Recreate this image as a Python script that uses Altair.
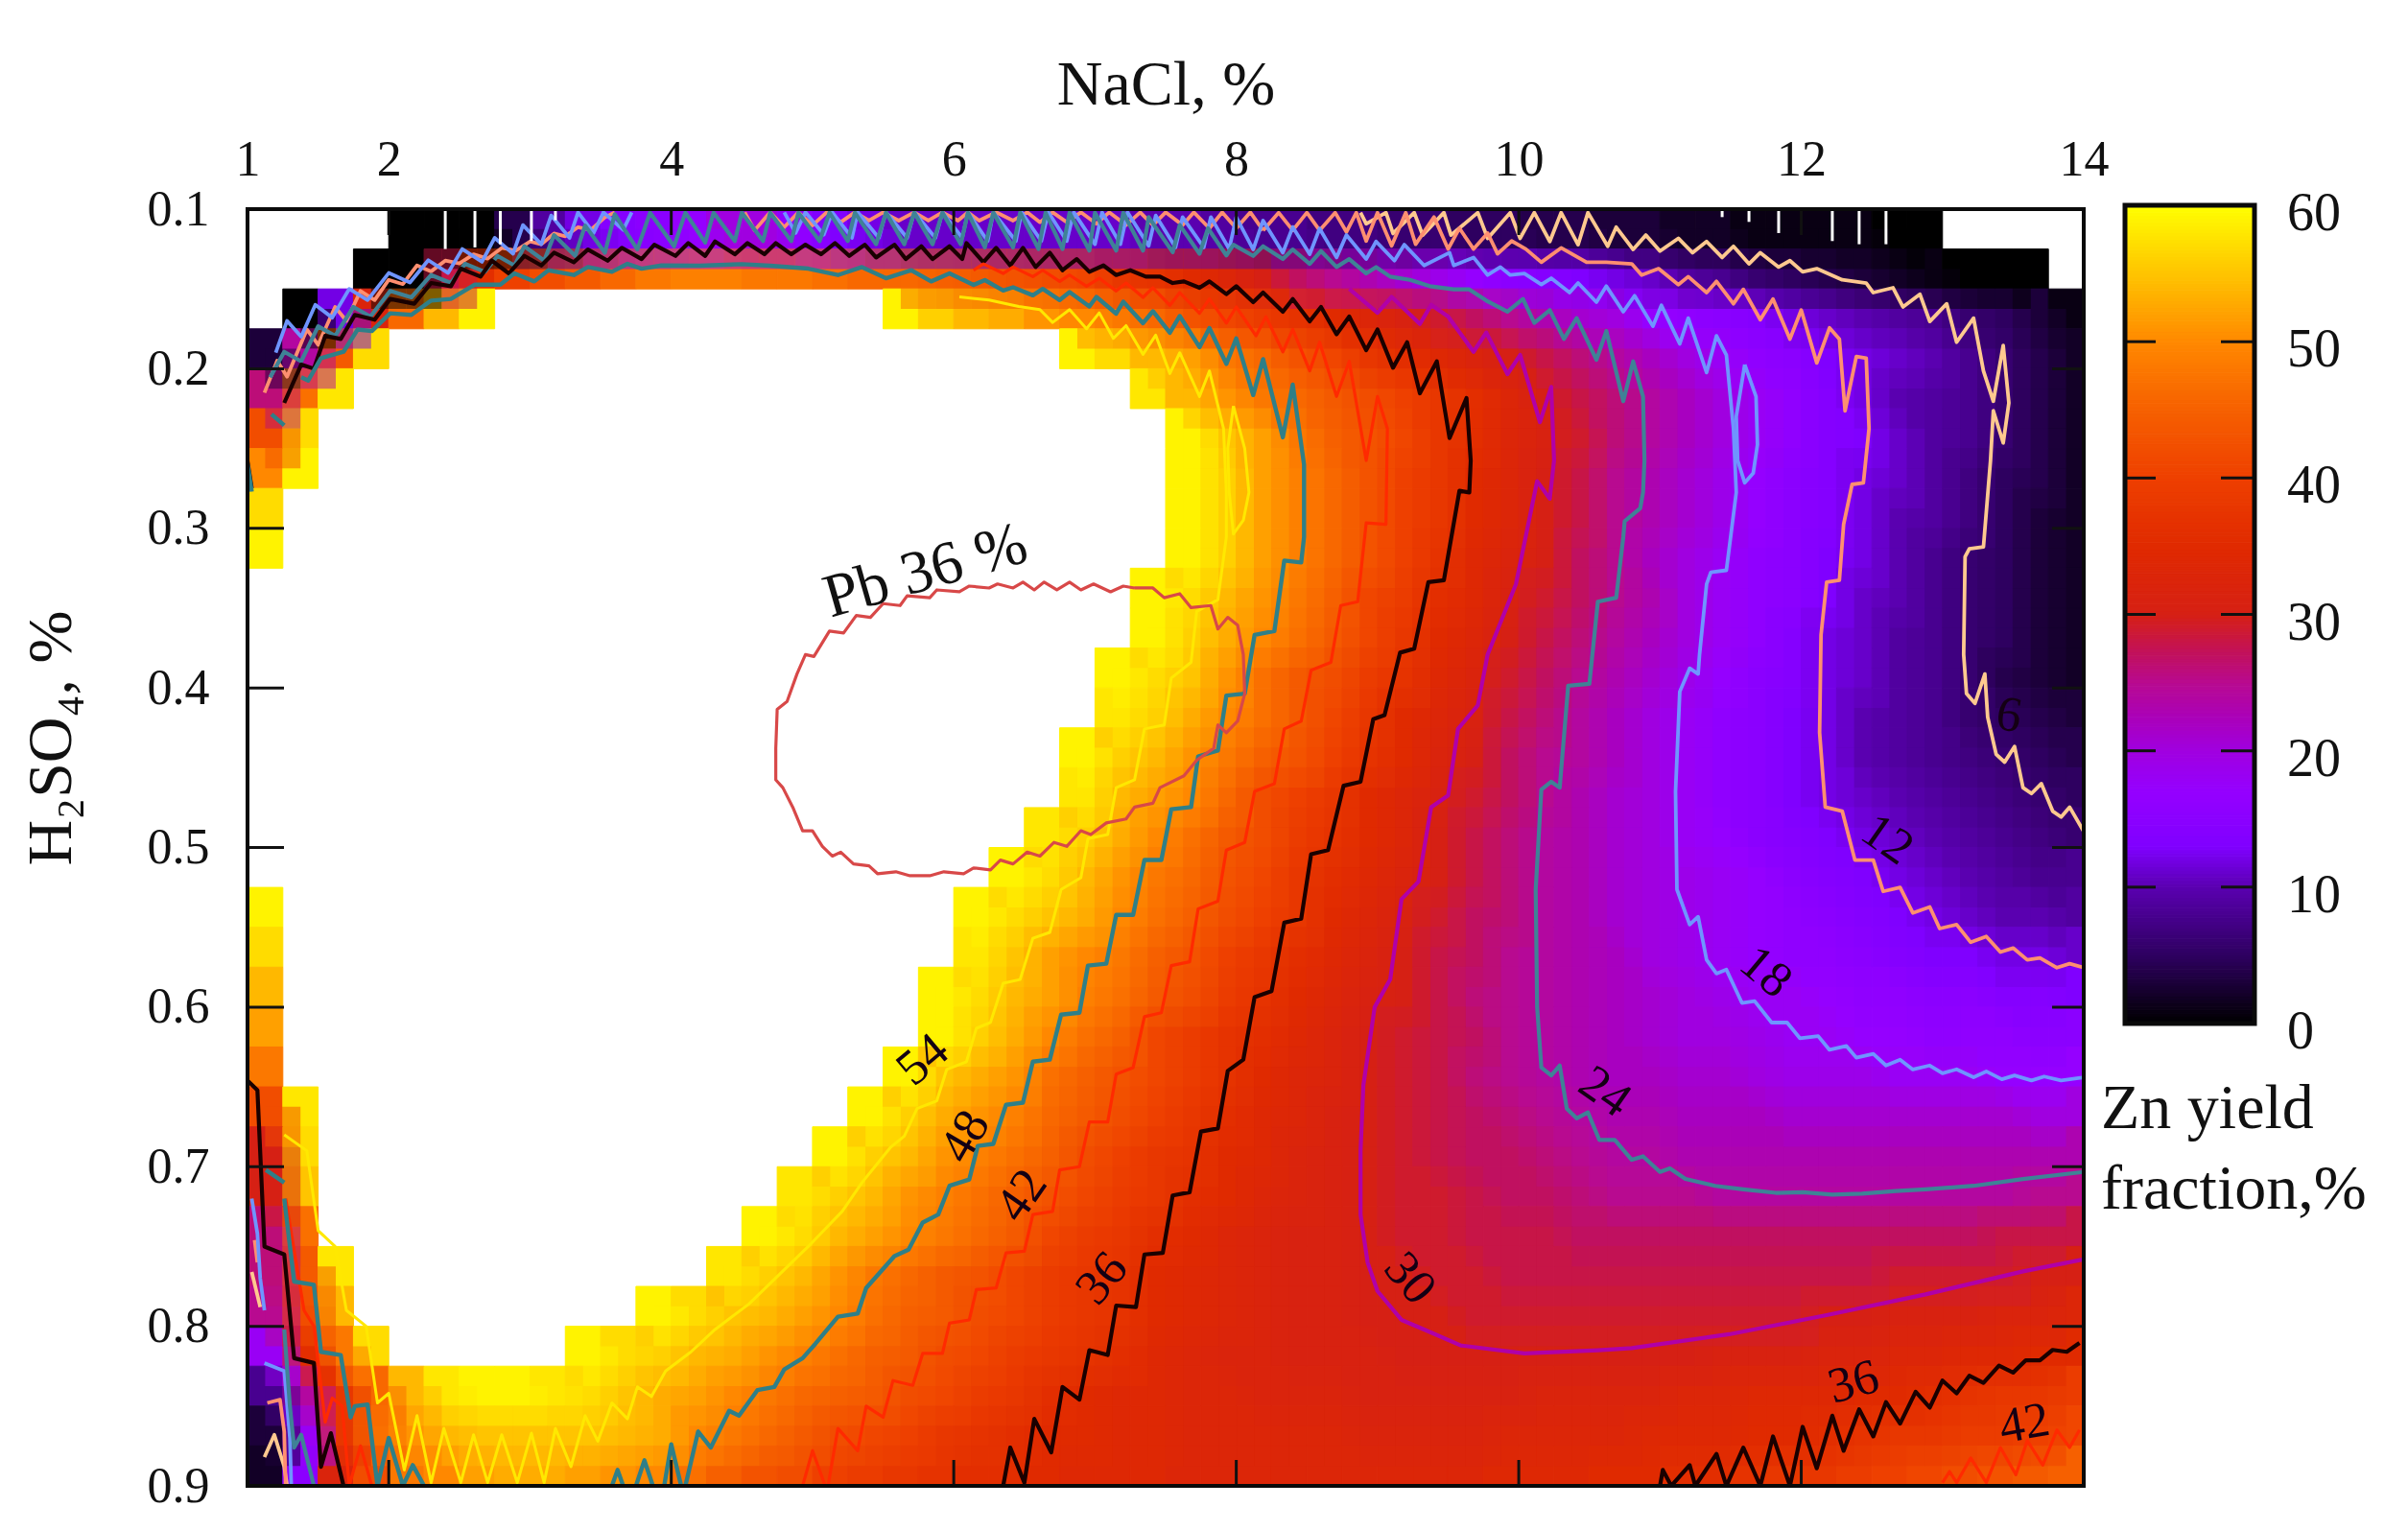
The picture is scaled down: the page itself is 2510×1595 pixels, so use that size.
import altair as alt
import pandas as pd

N = None
FONT = "Liberation Serif"

# ---------- Zn yield field, rows top to bottom, cells 0.25 x 0.025 ----------
nacl_start, nacl_step = 1.0, 0.25
acid_start, acid_step = 0.1, 0.025
zn_rows = [
 [N]*4+[0,0,0,4,9,12,14,15,17,20,20,16,13,12,11,11,11,11,11,11,11,10,10,9,8,8,7,7,6,6,5,5,4,4,3,3,2,2,1,1,1,1,0,0]+[N]*4,
 [N,N,N,0,0,28,36,40,42,44,46,48,49,49,48,48,47,46,46,45,44,43,42,41,38,37,35,33,30,27,25,23,21,19,17,15,14,13,12,11,9,8,6,5,4,3,2,1,0,0,0,N],
 [N,0,12,32,46,54,59]+[N]*11+[59,56,54,53,51,50,48,46,43,41,39,37,35,33,31,29,27,25,23,21,20,17,16,15,14,12,11,10,9,8,6,5,3,1],
 [3,24,44,57]+[N]*19+[59,57,54,52,48,46,43,41,38,36,34,32,30,28,26,24,22,20,18,16,15,13,12,11,10,8,6,4,2],
 [26,47,58]+[N]*22+[58,54,51,48,46,44,42,40,38,36,33,30,28,26,24,22,20,18,16,14,12,10,9,8,6,4,2],
 [42,57]+[N]*24+[59,55,52,48,45,43,41,38,36,33,31,29,26,24,22,20,18,16,14,13,11,9,8,6,4,2],
 [50,59]+[N]*24+[59,56,52,49,46,43,40,38,35,33,30,28,25,23,21,19,17,15,14,12,11,9,7,5,4,2],
 [57]+[N]*25+[59,56,52,49,46,43,40,38,35,33,30,28,25,23,21,19,17,15,14,12,10,9,7,5,3,2],
 [59]+[N]*25+[59,56,52,49,46,43,40,37,34,32,30,27,25,22,20,18,16,15,13,12,10,8,6,5,3,2],
 [N]*25+[59,57,54,51,48,45,41,39,36,34,31,29,27,25,23,20,18,16,15,13,11,10,8,6,5,3,2],
 [N]*25+[59,56,53,50,47,44,41,38,35,33,30,28,26,24,22,20,18,16,14,12,11,9,8,6,5,3,2],
 [N]*24+[59,57,55,51,47,44,42,39,37,34,32,29,27,25,23,21,19,17,15,14,12,11,9,8,6,4,3,2],
 [N]*24+[58,56,53,50,47,44,41,38,35,33,31,28,26,24,22,20,18,16,15,13,12,10,9,8,6,5,4,3],
 [N]*23+[59,56,54,51,48,45,43,40,37,35,32,30,27,25,24,22,20,18,16,15,13,12,10,9,8,7,6,5,4],
 [N]*23+[58,54,52,50,46,42,40,38,35,33,31,29,27,25,23,21,20,18,16,15,13,12,11,10,9,8,7,6,5],
 [N]*22+[58,56,53,50,47,44,42,39,37,35,33,30,28,26,24,23,21,20,18,17,15,14,13,12,11,10,9,8,7,6],
 [N]*21+[59,57,54,51,48,46,43,41,38,36,34,32,30,28,26,24,23,21,20,19,18,17,15,14,13,12,11,10,9,8,8],
 [59]+[N]*19+[59,57,55,53,50,47,45,42,40,38,35,33,31,29,27,26,24,23,21,20,19,18,17,16,15,14,13,12,11,10,10,9],
 [57]+[N]*19+[58,55,52,50,48,45,43,40,38,36,34,32,30,28,27,25,24,23,22,20,19,18,17,16,16,15,14,13,13,12,12,11],
 [54]+[N]*18+[59,57,54,52,49,47,44,42,39,37,35,33,31,30,28,26,25,24,23,22,21,20,19,18,18,17,16,16,15,15,14,14,13],
 [52]+[N]*18+[59,56,53,50,47,45,41,39,37,36,34,32,30,29,28,27,25,24,23,22,21,20,20,19,18,18,17,17,16,16,16,15,15],
 [48]+[N]*17+[59,55,53,51,47,45,43,41,39,37,35,33,32,30,29,28,26,25,24,23,22,22,21,21,20,19,19,19,18,18,18,17,17,17],
 [42,58]+[N]*15+[59,56,53,51,49,46,44,42,40,38,36,34,33,31,30,29,28,27,26,25,24,23,23,22,22,22,21,21,21,21,21,21,21,20,20],
 [30,57]+[N]*14+[59,56,54,51,49,47,45,42,40,38,37,35,34,32,31,30,29,28,27,27,26,25,24,24,23,23,23,23,23,23,23,23,23,23,23,23],
 [30,55]+[N]*13+[58,56,54,51,49,47,45,43,41,39,38,36,35,33,32,31,30,29,29,28,27,27,26,25,25,25,24,24,24,24,24,24,24,24,24,25,25],
 [26,47]+[N]*12+[59,57,54,52,50,48,46,44,41,39,38,36,35,33,32,31,31,30,29,29,28,28,28,27,27,27,27,27,27,27,27,27,27,27,27,28,28,28],
 [26,44,58]+[N]*10+[58,56,54,51,48,46,44,43,41,39,38,37,35,34,33,32,31,31,30,30,29,29,28,28,28,28,28,28,28,28,28,28,28,29,29,29,29,30,30],
 [25,42,54]+[N]*8+[59,57,55,54,52,50,47,45,44,42,41,39,38,37,35,34,33,32,31,31,30,30,30,29,29,29,29,29,29,29,29,29,29,30,30,31,31,31,32,32,33],
 [18,36,48,57]+[N]*5+[59,57,56,54,53,51,49,47,45,44,42,41,39,38,37,36,34,33,32,32,31,31,31,30,30,30,30,30,30,30,30,30,31,31,31,32,32,33,33,34,34,35,35],
 [8,24,38,46,54,58,59,59,58,57,55,53,52,50,48,46,45,44,42,41,39,38,36,35,34,34,33,33,32,32,32,31,31,31,31,31,32,32,32,32,33,33,34,34,34,35,35,36,37,38,38,39],
 [3,18,38,47,51,54,55,55,55,55,54,53,50,48,46,44,42,41,40,38,37,36,35,35,34,34,33,33,33,33,33,32,32,32,32,33,33,33,33,34,34,34,35,35,36,37,38,38,39,39,40,41],
 [2,15,32,42,48,50,52,53,53,52,51,50,47,45,43,42,40,39,38,37,36,36,35,34,34,34,33,33,33,33,33,33,33,33,33,34,34,34,35,35,36,36,37,38,38,39,40,41,42,43,44,45],
]

# ---------- colour ramp ----------
ramp_values = [0,5,10,13,17,20,22,25,27,30,35,40,45,50,55,60]
ramp_colors = ["#000000","#2e0060","#5a00b0","#8000ff","#9500ff","#a000e0","#a800c0","#b80a90","#c01060",
               "#d62014","#e02a00","#ee4000","#f66000","#ff8800","#ffc400","#ffff00"]

# ---------- contours (NaCl, H2SO4) ----------
c6_a = [(8.88,.1022),(8.92,.1092),(9.06,.1022),(9.11,.1153),(9.26,.1022),(9.32,.1163),(9.47,.1022),(9.52,.1163),(9.71,.1022),(9.78,.1183),(9.94,.1022),(10.01,.1183),(10.11,.1022),(10.22,.1203),(10.3,.1022),(10.42,.1223),(10.49,.1022),(10.63,.1233),(10.69,.1113),(10.81,.1253),(10.9,.1163),(11.0,.1263),(11.13,.1183),(11.23,.1273),(11.33,.1203),(11.44,.1303),(11.52,.1233),(11.63,.1343),(11.71,.1273),(11.84,.1363),(11.92,.1323),(12.01,.1393),(12.11,.1373),(12.29,.1443),(12.46,.1463),(12.51,.1523),(12.65,.1493),(12.72,.1613),(12.84,.1533),(12.91,.1704),(13.03,.1593),(13.1,.1834),(13.22,.1683),(13.29,.2014),(13.36,.2204),(13.43,.1854),(13.47,.2214),(13.43,.2465),(13.36,.2264),(13.34,.2575),(13.29,.3116),(13.19,.3129),(13.16,.3178),(13.15,.3791),(13.17,.4036),(13.23,.4097),(13.3,.3913),(13.32,.4183),(13.38,.4416),(13.44,.4465),(13.51,.4367),(13.57,.4625),(13.63,.4662),(13.7,.46),(13.78,.4772),(13.84,.4809),(13.9,.4747),(14.0,.49)]
c6_b = [(1.03,.766),(1.09,.788)]
c6_c = [(1.12,.882),(1.19,.868),(1.26,.888),(1.28,.9)]
c12_a = [(8.19,.1133),(8.3,.1022),(8.4,.1133),(8.5,.1022),(8.59,.1133),(8.7,.1022),(8.78,.1143),(8.85,.1022),(8.92,.12),(9.0,.1022),(9.1,.123),(9.2,.1022),(9.27,.122),(9.4,.105),(9.5,.125),(9.58,.112),(9.68,.125),(9.78,.115),(9.85,.128),(9.95,.12),(10.05,.125),(10.16,.1333),(10.3,.1243),(10.48,.1333),(10.62,.1333),(10.8,.1343),(10.87,.1413),(10.99,.1373),(11.13,.1473),(11.2,.1423),(11.33,.1523),(11.4,.1453),(11.52,.1593),(11.59,.1503),(11.71,.1693),(11.8,.1563),(11.92,.1814),(12.0,.1633),(12.11,.1964),(12.2,.1744),(12.27,.1814),(12.31,.2264),(12.39,.1924),(12.46,.1934),(12.48,.2375),(12.44,.2715),(12.36,.2725),(12.3,.2975),(12.27,.3325),(12.18,.3337),(12.14,.3668),(12.13,.4281),(12.17,.4747),(12.29,.4772),(12.38,.5079),(12.51,.5079),(12.58,.5275),(12.7,.525),(12.79,.541),(12.91,.5373),(12.98,.5508),(13.1,.5483),(13.2,.5594),(13.31,.5557),(13.41,.5655),(13.5,.563),(13.6,.5704),(13.69,.5692),(13.81,.5753),(13.9,.5728),(14.0,.5753)]
c12_b = [(1.12,.215),(1.21,.195),(1.28,.205),(1.42,.1754),(1.5,.185),(1.62,.1613),(1.7,.17),(1.8,.1513),(1.9,.157),(2.0,.1443),(2.1,.147),(2.2,.1353),(2.3,.139),(2.4,.1323),(2.5,.134),(2.6,.1283),(2.7,.131),(2.8,.1243),(2.9,.126),(3.0,.1203),(3.08,.122),(3.17,.1153),(3.25,.117),(3.34,.1113),(3.43,.113),(3.53,.1052),(3.6,.102)]
c12_c = [(4.52,.102),(4.59,.1133),(4.7,.102),(4.8,.1113),(4.9,.102),(5.0,.1102),(5.1,.102),(5.2,.1082),(5.3,.102),(5.4,.1072),(5.5,.102),(5.61,.1072),(5.72,.102),(5.82,.1072),(5.92,.102),(6.03,.1072),(6.1,.102),(6.18,.1072),(6.3,.102),(6.42,.1072),(6.52,.102),(6.61,.1082),(6.7,.102),(6.8,.1082),(6.9,.102),(7.01,.1092),(7.1,.102),(7.22,.11),(7.32,.102),(7.41,.11),(7.5,.102),(7.62,.11),(7.7,.102),(7.81,.112),(7.9,.102),(8.0,.112),(8.1,.102),(8.19,.1133)]
c12_d = [(1.05,.746),(1.07,.76)]
c12_e = [(1.14,.848),(1.23,.846),(1.26,.866),(1.27,.9)]
c18_a = [(1.2,.19),(1.28,.17),(1.38,.18),(1.48,.16),(1.6,.168),(1.72,.15),(1.85,.157),(2.0,.14),(2.15,.146),(2.28,.132),(2.42,.14),(2.52,.125),(2.66,.133),(2.75,.118),(2.88,.128),(2.95,.11),(3.08,.122),(3.15,.104),(3.28,.118),(3.34,.102),(3.45,.115),(3.52,.102),(3.66,.113),(3.72,.102)]
c18_b = [(4.8,.102),(4.88,.115),(4.95,.102),(5.08,.116),(5.14,.102),(5.28,.118),(5.32,.102),(5.47,.118),(5.52,.102),(5.67,.118),(5.72,.102),(5.87,.118),(5.92,.102),(6.06,.118),(6.1,.102),(6.24,.12),(6.28,.102),(6.44,.12),(6.48,.102),(6.62,.12),(6.67,.102),(6.8,.12),(6.85,.102),(7.0,.122),(7.05,.102),(7.18,.122),(7.23,.102),(7.38,.123),(7.43,.104),(7.57,.124),(7.62,.105),(7.77,.124),(7.82,.105),(7.95,.125),(8.0,.105),(8.12,.1253),(8.19,.1072),(8.33,.1273),(8.4,.1112),(8.52,.1283),(8.59,.1122),(8.71,.1303),(8.78,.1162),(8.92,.1313),(8.99,.1203),(9.12,.1323),(9.19,.1223),(9.33,.1353),(9.51,.1273),(9.54,.1353),(9.68,.1303),(9.78,.1413),(9.87,.1363),(9.94,.1413),(10.04,.1403),(10.16,.1473),(10.23,.1433),(10.36,.1523),(10.42,.1463),(10.55,.1583),(10.62,.1483),(10.74,.1643),(10.82,.1543),(10.95,.1734),(11.01,.1603),(11.14,.1844),(11.2,.1683),(11.33,.2024),(11.4,.1794),(11.47,.1914),(11.52,.2375),(11.54,.2775),(11.5,.3055),(11.47,.3263),(11.36,.3276),(11.33,.335),(11.28,.379),(11.27,.3913),(11.21,.3877),(11.14,.4024),(11.11,.4649),(11.12,.5263),(11.21,.5483),(11.27,.5434),(11.33,.5704),(11.4,.579),(11.47,.5765),(11.58,.5974),(11.67,.5962),(11.79,.6097),(11.9,.6097),(11.99,.6195),(12.12,.6182),(12.2,.6268),(12.32,.6244),(12.39,.6317),(12.51,.6293),(12.6,.6366),(12.7,.633),(12.79,.6391),(12.91,.6366),(13.0,.6415),(13.1,.639),(13.22,.644),(13.31,.6403),(13.42,.6452),(13.51,.6428),(13.63,.646),(13.72,.6435),(13.84,.646),(14.0,.644)]
c18_c = [(11.6,.1974),(11.68,.2174),(11.69,.2475),(11.66,.2655),(11.6,.2715),(11.55,.2575),(11.54,.23),(11.6,.1974)]
c18_d = [(1.03,.72),(1.07,.742),(1.09,.77),(1.12,.79)]
c18_e = [(1.12,.823),(1.26,.828),(1.3,.87),(1.31,.9)]
c24_a = [(1.16,.2054),(1.26,.1894),(1.38,.1954),(1.5,.1734),(1.62,.1794),(1.75,.1613),(1.87,.1673),(2.01,.1513),(2.16,.1553),(2.3,.1413),(2.44,.1463),(2.54,.1343),(2.68,.1393),(2.77,.1293),(2.89,.1353),(2.96,.1233),(3.1,.1323),(3.17,.1163),(3.32,.1293),(3.39,.1103),(3.53,.1273),(3.6,.1032),(3.76,.1253),(3.85,.1022),(4.02,.1233),(4.1,.1022),(4.24,.121),(4.3,.1022),(4.45,.12),(4.5,.1022),(4.65,.12),(4.7,.1022),(4.85,.12),(4.9,.1022),(5.05,.12),(5.12,.1022),(5.25,.12),(5.3,.1022),(5.45,.122),(5.52,.1022),(5.65,.122),(5.72,.1022),(5.85,.122),(5.92,.1022),(6.05,.122),(6.1,.1022),(6.22,.124),(6.28,.1022),(6.42,.124),(6.47,.1022),(6.6,.125),(6.65,.1022),(6.77,.125),(6.82,.1022),(6.96,.126),(7.0,.1022),(7.15,.126),(7.2,.1022),(7.34,.126),(7.38,.105),(7.55,.127),(7.6,.11),(7.74,.128),(7.8,.112),(7.93,.129),(7.98,.1223),(8.12,.1293),(8.19,.1233),(8.33,.1313),(8.4,.1253),(8.52,.1343),(8.6,.1263),(8.71,.1363),(8.8,.1313),(8.92,.1403),(8.99,.1363),(9.09,.1423),(9.23,.1443),(9.37,.1483),(9.54,.1503),(9.65,.1503),(9.77,.1573),(9.92,.1643),(10.03,.1563),(10.11,.1713),(10.22,.1633),(10.32,.1814),(10.41,.1683),(10.55,.1944),(10.62,.1764),(10.74,.2204),(10.81,.1954),(10.88,.2174),(10.89,.2575),(10.88,.2775),(10.86,.2875),(10.75,.2956),(10.74,.3055),(10.69,.3435),(10.56,.346),(10.5,.3975),(10.35,.3987),(10.29,.4625),(10.23,.4588),(10.16,.4637),(10.12,.5263),(10.13,.5998),(10.16,.6379),(10.23,.6428),(10.29,.6366),(10.34,.6636),(10.41,.6697),(10.49,.666),(10.57,.6832),(10.68,.6832),(10.8,.6957),(10.88,.6935),(11.0,.7033),(11.07,.7011),(11.18,.7077),(11.39,.712),(11.59,.7142),(11.82,.7164),(12.01,.716),(12.22,.7175),(12.43,.7169),(12.67,.7153),(12.88,.7142),(13.22,.712),(13.57,.7077),(14.0,.7033)]
c24_b = [(1.26,.802),(1.3,.85),(1.33,.876),(1.38,.868),(1.47,.9)]
c30_a = [(8.8,.15),(9.0,.165),(9.1,.155),(9.3,.172),(9.38,.16),(9.5,.1673),(9.68,.1894),(9.77,.1773),(9.92,.2034),(10.01,.1914),(10.15,.2335),(10.23,.2114),(10.25,.2575),(10.22,.2815),(10.13,.2705),(9.98,.335),(9.78,.379),(9.71,.411),(9.57,.4257),(9.5,.4674),(9.38,.4747),(9.29,.5214),(9.17,.5324),(9.09,.5827),(8.98,.6),(8.9,.649),(8.88,.69),(8.88,.73),(8.93,.76),(9.0,.778),(9.17,.796),(9.33,.802),(9.59,.812),(10.04,.817),(10.56,.815),(10.8,.8137),(11.49,.805),(12.18,.793),(12.88,.78),(13.57,.7656),(14.0,.758)]
c36_a = [(1.26,.2214),(1.38,.1974),(1.47,.2),(1.55,.1794),(1.66,.1814),(1.76,.1663),(1.9,.1693),(2.01,.1563),(2.18,.1593),(2.3,.1463),(2.44,.1483),(2.51,.1373),(2.65,.1423),(2.73,.1323),(2.85,.1403),(2.96,.1293),(3.08,.1353),(3.17,.1273),(3.31,.1333),(3.41,.1253),(3.55,.1323),(3.65,.1243),(3.79,.1313),(3.88,.1223),(4.03,.1293),(4.12,.1213),(4.24,.1293),(4.31,.1203),(4.45,.1283),(4.54,.1213),(4.66,.1283),(4.74,.1213),(4.85,.1283),(4.95,.1223),(5.06,.1283),(5.16,.1213),(5.26,.1293),(5.37,.1223),(5.45,.1303),(5.58,.1223),(5.66,.1313),(5.77,.1233),(5.85,.1313),(5.97,.1233),(6.06,.1313),(6.09,.1213),(6.21,.1333),(6.3,.1243),(6.4,.1353),(6.49,.1243),(6.58,.1363),(6.68,.1273),(6.77,.1383),(6.87,.1313),(6.96,.1393),(7.06,.1353),(7.15,.1413),(7.25,.1383),(7.36,.1423),(7.46,.1423),(7.55,.1463),(7.63,.1453),(7.74,.1493),(7.81,.1453),(7.93,.1533),(8.0,.1483),(8.12,.1583),(8.19,.1523),(8.33,.1643),(8.4,.1563),(8.52,.1703),(8.6,.1613),(8.71,.1784),(8.8,.1673),(8.92,.1884),(9.0,.1754),(9.11,.1994),(9.21,.1834),(9.3,.2154),(9.42,.1954),(9.51,.2435),(9.63,.2184),(9.66,.2575),(9.65,.2775),(9.58,.2765),(9.47,.3325),(9.36,.3337),(9.26,.3754),(9.16,.3779),(9.05,.4171),(8.97,.4196),(8.88,.4588),(8.76,.4613),(8.65,.5017),(8.53,.5042),(8.46,.5446),(8.34,.5471),(8.25,.59),(8.13,.5937),(8.05,.6329),(7.94,.64),(7.87,.676),(7.75,.678),(7.67,.716),(7.55,.718),(7.48,.754),(7.35,.755),(7.29,.788),(7.15,.787),(7.09,.818),(6.96,.815),(6.89,.846),(6.77,.838),(6.69,.879),(6.57,.858),(6.5,.898),(6.4,.876),(6.35,.9)]
c36_b = [(11.0,.9),(11.02,.89),(11.08,.9),(11.21,.887),(11.25,.9),(11.4,.88),(11.47,.9),(11.59,.876),(11.71,.9),(11.8,.869),(11.92,.9),(12.01,.863),(12.11,.889),(12.22,.856),(12.3,.878),(12.41,.852),(12.51,.869),(12.6,.8475),(12.7,.861),(12.81,.841),(12.91,.851),(13.0,.834),(13.1,.842),(13.19,.831),(13.29,.8355),(13.4,.8246),(13.5,.829),(13.59,.8213),(13.69,.8213),(13.78,.8148),(13.88,.816),(13.97,.8104)]
c36_c = [(1.0,.646),(1.07,.652),(1.12,.75),(1.26,.755),(1.33,.82),(1.47,.823),(1.52,.888),(1.59,.867),(1.68,.9)]
c36_d = [(1.0,.258),(1.03,.275)]
c42_a = [(6.14,.1383),(6.21,.1343),(6.35,.1403),(6.42,.1363),(6.56,.1423),(6.63,.1383),(6.75,.1453),(6.82,.1413),(6.94,.1483),(7.03,.1433),(7.15,.1513),(7.22,.1463),(7.34,.1553),(7.41,.1493),(7.53,.1603),(7.6,.1523),(7.74,.1653),(7.81,.1563),(7.93,.1714),(8.0,.1613),(8.14,.1794),(8.21,.1674),(8.33,.1894),(8.4,.1754),(8.52,.2014),(8.59,.1834),(8.71,.2174),(8.8,.1954),(8.92,.2575),(9.0,.2174),(9.07,.2375),(9.06,.2975),(8.92,.2966),(8.86,.346),(8.74,.3484),(8.67,.384),(8.53,.3889),(8.46,.4208),(8.34,.4257),(8.27,.46),(8.13,.4649),(8.06,.4968),(7.93,.5017),(7.87,.5336),(7.73,.5385),(7.67,.5716),(7.54,.574),(7.47,.6035),(7.35,.606),(7.27,.6379),(7.15,.642),(7.09,.672),(6.96,.672),(6.89,.70),(6.75,.702),(6.7,.728),(6.56,.73),(6.5,.753),(6.37,.754),(6.3,.776),(6.16,.777),(6.11,.796),(5.97,.798),(5.92,.817),(5.78,.817),(5.71,.837),(5.57,.834),(5.5,.857),(5.38,.85),(5.32,.878),(5.18,.864),(5.11,.9)]
c42_b = [(4.93,.9),(5.0,.878),(5.09,.9)]
c42_c = [(13.0,.898),(13.05,.891),(13.1,.898),(13.2,.8825),(13.31,.898),(13.41,.876),(13.52,.893),(13.6,.8716),(13.71,.887),(13.81,.865),(13.9,.876),(13.97,.865)]
c42_d = [(1.27,.72),(1.4,.79),(1.47,.80),(1.55,.86),(1.6,.845),(1.67,.85),(1.72,.9),(1.8,.875),(1.88,.9)]
c48_a = [(1.38,.2054),(1.43,.2074),(1.52,.1934),(1.68,.1894),(1.78,.1754),(1.88,.1764),(2.01,.1653),(2.16,.1663),(2.3,.1573),(2.44,.1563),(2.61,.1473),(2.79,.1473),(2.89,.1403),(3.03,.1453),(3.13,.1383),(3.31,.1413),(3.41,.1363),(3.58,.1393),(3.69,.1343),(3.79,.1373),(3.93,.1353),(4.2,.1355),(4.5,.1345),(4.7,.1355),(4.97,.1373),(5.18,.1413),(5.35,.1363),(5.52,.1433),(5.7,.1383),(5.84,.1453),(5.97,.1403),(6.14,.1475),(6.22,.1445),(6.35,.151),(6.42,.149),(6.56,.154),(6.63,.15),(6.75,.157),(6.82,.152),(6.96,.161),(7.01,.155),(7.15,.1655),(7.2,.158),(7.34,.1715),(7.41,.164),(7.53,.1775),(7.6,.167),(7.74,.1865),(7.81,.1745),(7.93,.197),(8.0,.181),(8.12,.2165),(8.19,.194),(8.33,.243),(8.4,.21),(8.48,.26),(8.48,.3055),(8.46,.3214),(8.34,.3202),(8.27,.3644),(8.13,.3668),(8.06,.4036),(7.93,.4048),(7.87,.4392),(7.73,.4429),(7.68,.4747),(7.54,.476),(7.47,.5078),(7.35,.5078),(7.27,.5422),(7.15,.5422),(7.08,.5728),(6.95,.574),(6.89,.6035),(6.76,.6047),(6.68,.6329),(6.56,.6342),(6.49,.6599),(6.37,.6612),(6.28,.6857),(6.17,.687),(6.11,.708),(5.97,.712),(5.89,.730),(5.78,.735),(5.68,.752),(5.58,.756),(5.38,.776),(5.32,.792),(5.18,.794),(5.02,.811),(4.93,.82),(4.8,.827),(4.73,.838),(4.61,.84),(4.48,.856),(4.41,.853),(4.28,.876),(4.19,.866),(4.1,.9)]
c48_b = [(1.26,.2355),(1.17,.2285)]
c48_c = [(1.0,.26),(1.03,.277)]
c48_d = [(1.13,.702),(1.26,.71)]
c48_e = [(1.26,.72),(1.33,.772),(1.47,.774),(1.52,.816),(1.66,.818),(1.73,.857),(1.76,.85),(1.85,.849),(1.92,.9),(2.0,.87),(2.1,.9),(2.17,.887),(2.25,.9)]
c48_f = [(3.95,.9),(4.0,.874),(4.07,.9)]
c48_g = [(3.75,.9),(3.81,.884),(3.87,.9)]
c48_h = [(3.58,.9),(3.62,.89),(3.66,.9)]
c54_a = [(6.04,.155),(6.25,.157),(6.46,.161),(6.61,.163),(6.7,.171),(6.82,.163),(6.94,.175),(7.03,.165),(7.13,.181),(7.22,.173),(7.34,.191),(7.43,.179),(7.53,.203),(7.6,.19),(7.74,.2174),(7.81,.2014),(7.91,.2375),(7.93,.2775),(7.93,.3055),(7.87,.3447),(7.72,.3521),(7.68,.384),(7.54,.3938),(7.49,.4232),(7.35,.4257),(7.28,.4576),(7.15,.4625),(7.09,.4919),(6.95,.4944),(6.9,.5189),(6.76,.5263),(6.68,.5532),(6.56,.5569),(6.47,.5827),(6.35,.5851),(6.26,.6096),(6.16,.6133),(6.09,.6342),(5.95,.6391),(5.88,.6587),(5.74,.6636),(5.65,.6808),(5.55,.6881),(5.35,.71),(5.21,.728),(4.97,.75),(4.76,.768),(4.55,.786),(4.31,.802),(4.14,.816),(3.96,.828),(3.86,.844),(3.76,.838),(3.69,.858),(3.58,.848),(3.48,.872),(3.39,.856),(3.29,.888),(3.18,.864),(3.1,.898),(3.01,.867),(2.91,.898),(2.8,.868),(2.7,.898),(2.6,.868),(2.51,.898),(2.39,.864),(2.3,.898),(2.2,.856),(2.11,.89),(2.0,.842),(1.92,.848),(1.84,.8),(1.7,.79),(1.62,.75),(1.5,.74),(1.42,.69),(1.26,.68)]
c54_b = [(7.98,.2234),(8.06,.25),(8.09,.2775),(8.05,.295),(7.98,.3036),(7.95,.2775),(7.94,.25),(7.98,.2234)]
pb36 = [(7.28,.3374),(7.41,.3374),(7.49,.3435),(7.6,.341),(7.68,.3497),(7.82,.3484),(7.87,.3631),(7.94,.3558),(8.01,.3607),(8.05,.3791),(8.06,.4036),(8.01,.4208),(7.93,.4281),(7.87,.4232),(7.84,.4379),(7.72,.4453),(7.63,.4551),(7.46,.4625),(7.41,.4723),(7.28,.4747),(7.22,.4821),(7.08,.4846),(6.97,.4919),(6.9,.4895),(6.8,.4993),(6.71,.4968),(6.61,.5054),(6.52,.5029),(6.42,.5103),(6.33,.5079),(6.26,.514),(6.14,.5128),(6.07,.5164),(5.93,.5152),(5.83,.5177),(5.69,.5177),(5.59,.5152),(5.46,.5164),(5.4,.5115),(5.29,.5103),(5.2,.5029),(5.14,.5054),(5.07,.4993),(5.0,.4895),(4.93,.4895),(4.86,.4747),(4.79,.4625),(4.74,.4576),(4.74,.4379),(4.75,.4134),(4.82,.4085),(4.89,.3913),(4.95,.3791),(5.01,.3803),(5.12,.3644),(5.22,.3656),(5.31,.3546),(5.41,.3558),(5.5,.3472),(5.62,.3484),(5.67,.3423),(5.83,.3435),(5.88,.3386),(6.04,.3398),(6.11,.3362),(6.25,.3374),(6.31,.3349),(6.42,.3374),(6.49,.3337),(6.57,.3386),(6.64,.3337),(6.73,.3386),(6.82,.3337),(6.9,.3386),(6.99,.3349),(7.11,.3398),(7.2,.3362),(7.28,.3374)]

contour_groups = [
 ("#ffc98f", 3.8, [c6_a, c6_b, c6_c]),
 ("#ff8f70", 3.8, [c12_a, c12_b, c12_c, c12_d, c12_e]),
 ("#6f95ff", 3.8, [c18_a, c18_c, c18_d, c18_e, c18_b]),
 ("#3f8296", 4.2, [c24_a, c24_b]),
 ("#b000a8", 4.2, [c30_a]),
 ("#1a0000", 4.2, [c36_a, c36_b, c36_c, c36_d]),
 ("#ff2a00", 3.2, [c42_a, c42_b, c42_c, c42_d]),
 ("#2f7f88", 4.4, [c48_a, c48_b, c48_c, c48_d, c48_e, c48_f, c48_g, c48_h]),
 ("#ffe800", 3.0, [c54_a, c54_b]),
 ("#d84848", 3.2, [pb36]),
]

# ---------- labels ----------
label_text = ["54","48","42","36","30","24","18","12","6","36","42"]
label_x = [5.78,6.08,6.48,7.05,9.23,10.61,11.75,12.61,13.47,12.37,13.58]
label_y = [.633,.681,.718,.77,.77,.653,.578,.495,.417,.835,.861]
label_angle = [320,300,305,310,50,35,40,35,10,345,350]

x_axis_labels = [1,2,4,6,8,10,12,14]
x_tick_marks = [2,4,6,8,10,12]
y_tick_marks = [.2,.3,.4,.5,.6,.7,.8]
y_axis_labels = [.1,.2,.3,.4,.5,.6,.7,.8,.9]
white_tick_x = [2.4,2.61,2.79,3.01,3.18,11.44,11.63,11.84,12.22,12.41,12.6]
white_tick_end = [.125,.124,.122,.12,.107,.105,.108,.115,.12,.122,.122]

bar_levels = [0,10,20,30,40,50,60]

W, H = 1914, 1331
for i, r in enumerate(zn_rows):
    assert len(r) == 52, (i, len(r))

cells = []
soft = []
for j, row in enumerate(zn_rows):
    for i, v in enumerate(row):
        if v is None:
            continue
        cells.append({"x0": nacl_start + i*nacl_step, "x1": nacl_start + (i+1)*nacl_step,
                      "y0": round(acid_start + j*acid_step, 4), "y1": round(acid_start + (j+1)*acid_step, 4), "v": v})
        # the same cell drawn again half a step along, where it stays inside the painted field,
        # softens the block edges without adding any value
        if j + 1 < len(zn_rows) and i + 1 < len(row) and row[i+1] is not None \
                and zn_rows[j+1][i] is not None and zn_rows[j+1][i+1] is not None:
            soft.append({"x0": nacl_start + (i+.5)*nacl_step, "x1": nacl_start + (i+1.5)*nacl_step,
                         "y0": round(acid_start + (j+.5)*acid_step, 4), "y1": round(acid_start + (j+1.5)*acid_step, 4), "v": v})
cells = pd.DataFrame(cells)
soft = pd.DataFrame(soft)

xs = alt.Scale(domain=[1, 14], nice=False, zero=False)
ys = alt.Scale(domain=[0.1, 0.9], reverse=True, nice=False, zero=False)
cs = alt.Scale(domain=ramp_values, range=ramp_colors, interpolate="rgb", clamp=True)
xax = alt.Axis(orient="top", values=x_axis_labels, title="NaCl, %", titleFont=FONT, titleFontSize=66, titleFontWeight="normal",
               titleColor="#111", labelFont=FONT, labelFontSize=52, labelColor="#111", ticks=False, domain=False, grid=False,
               labelPadding=25, titlePadding=18, labelOverlap=False, labelFlush=False)
yax = alt.Axis(values=y_axis_labels, format=".1f", title="H₂SO₄, %", titleFont=FONT, titleFontSize=66, titleFontWeight="normal",
               titleColor="#111", labelFont=FONT, labelFontSize=52, labelColor="#111", ticks=False, domain=False, grid=False,
               labelPadding=40, titlePadding=66, titleY=551, labelOverlap=False, labelFlush=False)
X = lambda f: alt.X(f, scale=xs, axis=xax)
Y = lambda f: alt.Y(f, scale=ys, axis=yax)

heat = alt.Chart(cells).mark_rect(strokeWidth=1).encode(
    x=X("x0:Q"), x2="x1:Q", y=Y("y0:Q"), y2="y1:Q",
    fill=alt.Fill("v:Q", scale=cs, legend=None),
    stroke=alt.Stroke("v:Q", scale=cs, legend=None),
)
heat_soft = alt.Chart(soft).mark_rect(opacity=0.5).encode(
    x=X("x0:Q"), x2="x1:Q", y=Y("y0:Q"), y2="y1:Q",
    fill=alt.Fill("v:Q", scale=cs, legend=None),
)

layers = [heat, heat_soft]
for color, width, segs in contour_groups:
    rows = []
    for s, seg in enumerate(segs):
        for k, (px, py) in enumerate(seg):
            rows.append({"x": px, "y": py, "s": s, "k": k})
    layers.append(alt.Chart(pd.DataFrame(rows)).mark_line(color=color, strokeWidth=width, strokeJoin="round", clip=True).encode(
        x=X("x:Q"), y=Y("y:Q"), detail="s:N", order="k:Q"))

white_df = pd.DataFrame({"x": white_tick_x, "y": [.1]*len(white_tick_x), "y2": white_tick_end})
layers.append(alt.Chart(white_df).mark_rule(color="#ffffff", strokeWidth=3).encode(x=X("x:Q"), y=Y("y:Q"), y2="y2:Q"))

xt = pd.DataFrame({"x": x_tick_marks})
layers.append(alt.Chart(xt).mark_rule(color="#111", strokeWidth=3).encode(x=X("x:Q"), y=alt.value(H-27), y2=alt.value(H)))
layers.append(alt.Chart(xt).mark_rule(color="#111", strokeWidth=3).encode(x=X("x:Q"), y=alt.value(0), y2=alt.value(27)))
yt = pd.DataFrame({"y": y_tick_marks})
layers.append(alt.Chart(yt).mark_rule(color="#111", strokeWidth=3).encode(y=Y("y:Q"), x=alt.value(0), x2=alt.value(38)))
layers.append(alt.Chart(yt).mark_rule(color="#111", strokeWidth=3).encode(y=Y("y:Q"), x=alt.value(W-33), x2=alt.value(W)))

for t, lx, ly, a in zip(label_text, label_x, label_y, label_angle):
    layers.append(alt.Chart(pd.DataFrame({"x": [lx], "y": [ly], "t": [t]})).mark_text(
        font=FONT, fontSize=52, color="#140014", angle=a, align="center", baseline="middle").encode(
        x=X("x:Q"), y=Y("y:Q"), text="t:N"))
layers.append(alt.Chart(pd.DataFrame({"x": [5.8], "y": [.327], "t": ["Pb 36 %"]})).mark_text(
    font=FONT, fontSize=64, color="#111", angle=344, align="center", baseline="middle").encode(
    x=X("x:Q"), y=Y("y:Q"), text="t:N"))

frame = pd.DataFrame({"x0": [1], "x1": [14], "y0": [.1], "y1": [.9]})
layers.append(alt.Chart(frame).mark_rect(fillOpacity=0, stroke="#0a0a0a", strokeWidth=4).encode(
    x=X("x0:Q"), x2="x1:Q", y=Y("y0:Q"), y2="y1:Q"))

main = alt.layer(*layers).properties(width=W, height=H)

# ---------- colour bar ----------
bar_rows = []
lv = 0.0
while lv < 60:
    bar_rows.append({"a": lv, "b": lv + 0.25, "v": lv + 0.125})
    lv += 0.25
bys = alt.Scale(domain=[0, 59.72], nice=False, zero=False)
BW = 135
bar = alt.Chart(pd.DataFrame(bar_rows)).mark_rect(strokeWidth=1).encode(
    x=alt.value(0), x2=alt.value(BW),
    y=alt.Y("a:Q", scale=bys, axis=None), y2="b:Q",
    fill=alt.Fill("v:Q", scale=cs, legend=None),
    stroke=alt.Stroke("v:Q", scale=cs, legend=None),
)
ldf = pd.DataFrame({"y": bar_levels, "t": [str(v) for v in bar_levels]})
tdf = ldf[(ldf.y > 0) & (ldf.y < 60)]
bar_layers = [bar]
bar_layers.append(alt.Chart(tdf).mark_rule(color="#111", strokeWidth=3).encode(
    y=alt.Y("y:Q", scale=bys, axis=None), x=alt.value(0), x2=alt.value(32)))
bar_layers.append(alt.Chart(tdf).mark_rule(color="#111", strokeWidth=3).encode(
    y=alt.Y("y:Q", scale=bys, axis=None), x=alt.value(BW-35), x2=alt.value(BW)))
bar_layers.append(alt.Chart(pd.DataFrame({"a": [0], "b": [60]})).mark_rect(fillOpacity=0, stroke="#0a0a0a", strokeWidth=5).encode(
    x=alt.value(0), x2=alt.value(BW), y=alt.Y("a:Q", scale=bys, axis=None), y2="b:Q"))
bar_layers.append(alt.Chart(ldf).mark_text(font=FONT, fontSize=56, color="#111", align="left", baseline="middle", dy=9).encode(
    x=alt.value(169), y=alt.Y("y:Q", scale=bys, axis=None), text="t:N"))
bar_layers.append(alt.Chart(pd.DataFrame({"t": ["Zn yield"]})).mark_text(font=FONT, fontSize=66, color="#111", align="left", baseline="middle").encode(
    x=alt.value(-25), y=alt.value(938), text="t:N"))
bar_layers.append(alt.Chart(pd.DataFrame({"t": ["fraction,%"]})).mark_text(font=FONT, fontSize=66, color="#111", align="left", baseline="middle").encode(
    x=alt.value(-25), y=alt.value(1022), text="t:N"))
bar_chart = alt.layer(*bar_layers).properties(width=BW, height=849)

chart = alt.hconcat(main, bar_chart, spacing=43, bounds="flush").resolve_scale(fill="independent", stroke="independent").configure_view(strokeWidth=0).properties(
    background="white", padding={"left": 12, "top": 47, "right": 8, "bottom": 10})
chart.save("out.html", embed_options={"renderer": "svg", "actions": False})
